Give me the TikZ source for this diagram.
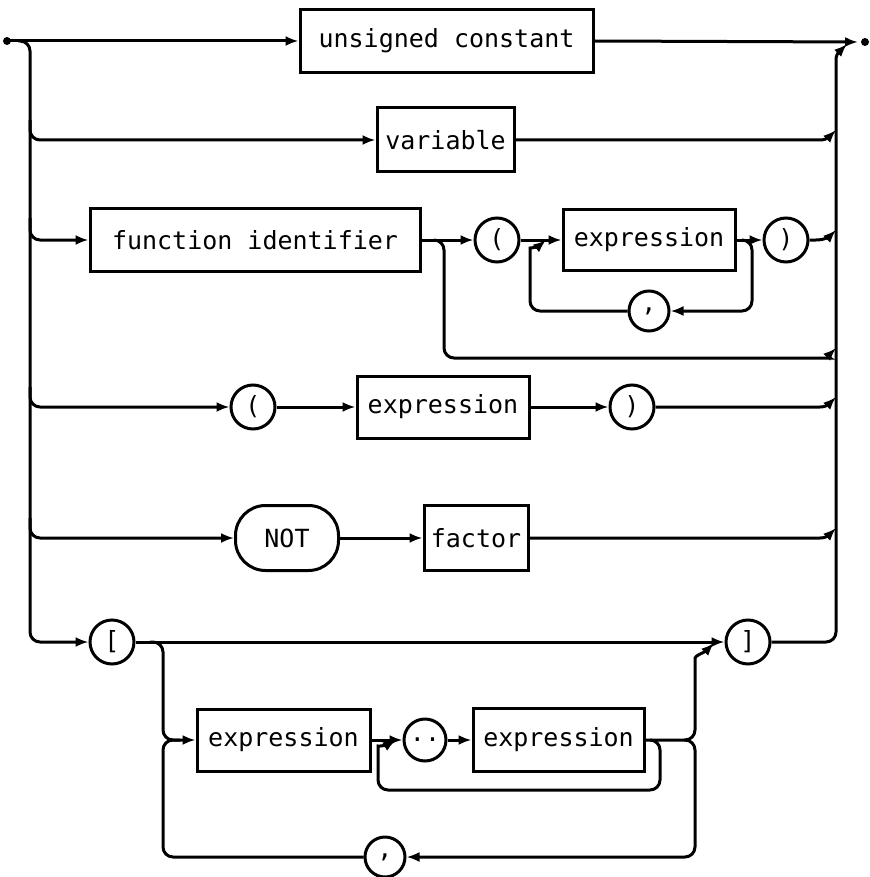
\documentclass[tikz,border=0pt]{standalone}
\usepackage{fontspec}
\setmainfont{DejaVu Sans Mono}
\usetikzlibrary{arrows.meta}
\begin{document}
\begin{tikzpicture}[x=1pt,y=-1pt,line width=3pt,
  >={Latex[length=13pt,width=10pt]},
  lbl/.style={font=\fontsize{25}{28}\selectfont, inner sep=0pt},
  box/.style={lbl, draw, rectangle},
  term/.style={lbl, draw, circle, minimum size=44pt},
  rc/.style={rounded corners=10pt}]
\useasboundingbox (0,0) rectangle (869,877);
% nodes
\node[box, minimum width=293pt, minimum height=63pt] (uc) at (446.5,41) {unsigned constant};
\node[box, minimum width=137pt, minimum height=64pt] (var) at (445.5,140) {variable};
\node[box, minimum width=330pt, minimum height=63pt] (fid) at (255,240) {function identifier};
\node[term] (lp3) at (497,240) {(};
\node[box, minimum width=172pt, minimum height=61pt] (e3) at (649,240) {expression};
\node[term] (rp3) at (786,240) {)};
\node[term, minimum size=40pt] (c3) at (649,311) {,};
\node[term] (lp4) at (253,407) {(};
\node[box, minimum width=172pt, minimum height=62pt] (e4) at (443,407) {expression};
\node[term] (rp4) at (632,407) {)};
\node[lbl, draw, rectangle, rounded corners=30pt, minimum width=103pt, minimum height=65pt] (nt) at (287,538) {NOT};
\node[box, minimum width=104pt, minimum height=65pt] (fac) at (476,538) {factor};
\node[term] (lb) at (112,642) {[};
\node[term] (rb) at (748,642) {]};
\node[box, minimum width=173pt, minimum height=62pt] (e61) at (283.5,740) {expression};
\node[term, minimum size=42pt] (dd) at (425,740) {..};
\node[box, minimum width=171pt, minimum height=63pt] (e62) at (558.5,740) {expression};
\node[term, minimum size=40pt] (cm) at (385,857) {,};
\coordinate (in) at (7,41);
\coordinate (out) at (865,42);
% entry and exit
\fill (in) circle (4pt);
\fill (out) circle (4pt);
\draw[->] (in) -- (uc.west);
\draw[->] (uc.east) -- (858,42);
% left rail
\draw[->,rc] (18,41) -| (30,642) -- (lb.west);
\draw[->,rc] (30,120) |- (var.west);
\draw[->,rc] (30,218) |- (fid.west);
\draw[->,rc] (30,387) |- (lp4.west);
\draw[->,rc] (30,518) |- (nt.west);
% right rail
\draw[rc] (rb.east) -| (836,70);
\draw[->] (836,70) -- (836,60) to[out=90,in=-135] (847,44);
\draw[->] (var.east) -- (820,140) to[out=0,in=-135] (836,130);
\draw[->] (rp3.east) -- (816,240) to[out=0,in=-135] (836,230);
\draw[->,rc] (434,240) -| (444,300) |- (820,358) to[out=0,in=-135] (836,348);
\draw[->] (rp4.east) -- (820,407) to[out=0,in=-135] (836,397);
\draw[->] (fac.east) -- (820,538) to[out=0,in=-135] (836,528);
% row 3
\draw[->] (fid.east) -- (lp3.west);
\draw[->] (lp3.east) -- (e3.west);
\draw[->] (e3.east) -- (rp3.west);
\draw[->,rc] (744,240) -| (752,280) |- (c3.east);
\draw[->,rc] (c3.west) -| (530,258) to[out=90,in=-140] (546,240);
% row 4
\draw[->] (lp4.east) -- (e4.west);
\draw[->] (e4.east) -- (rp4.west);
% row 5
\draw[->] (nt.east) -- (fac.west);
% row 6
\draw[->] (lb.east) -- (rb.west);
\draw[->,rc] (150,642) -| (163,700) |- (e61.west);
\draw[->] (e61.east) -- (dd.west);
\draw[->] (dd.east) -- (e62.west);
\draw[->,rc] (e62.east) -| (695,668) to[out=90,in=-135] (714,643);
\draw[->,rc] (650,740) -| (660,770) |- (378,790) -- (378,756) to[out=90,in=-150] (396,740);
\draw[->,rc] (684,740) -| (695,800) |- (cm.east);
\draw[rc] (cm.west) -| (163,740) -- (180,740);
\end{tikzpicture}
\end{document}
